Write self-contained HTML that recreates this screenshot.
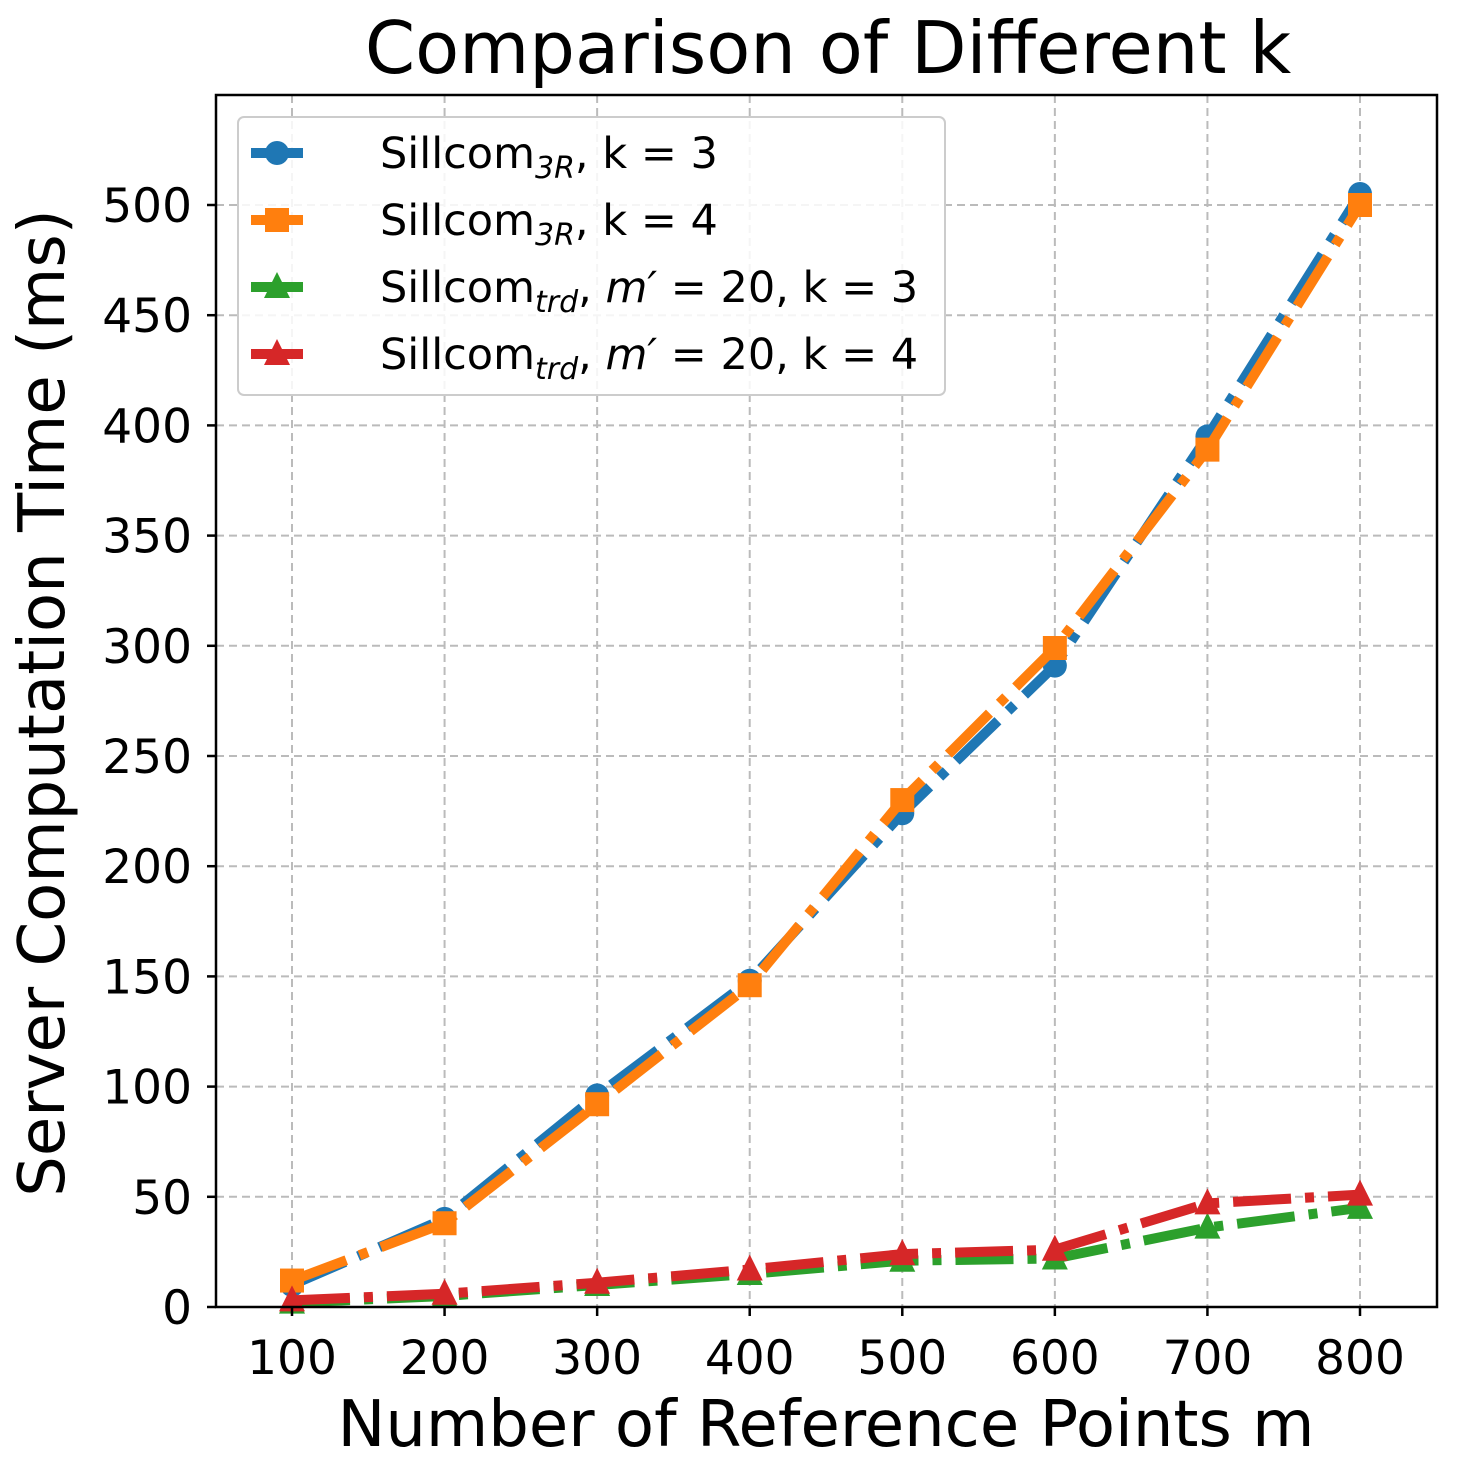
<!DOCTYPE html>
<html><head><meta charset="utf-8"><style>
body{margin:0;background:#fff}
svg text{font-family:"DejaVu Sans","Liberation Sans",sans-serif;fill:#000}
</style></head><body>
<svg id="chart" width="1460" height="1467" viewBox="0 0 1460 1467" xmlns="http://www.w3.org/2000/svg">
<rect width="1460" height="1467" fill="#fff"/>
<text x="828" y="73" font-size="72" text-anchor="middle">Comparison of Different k</text>
<g id="grid"></g>
<g id="series"></g>
<rect x="216" y="95" width="1221" height="1212" fill="none" stroke="#000" stroke-width="2.5"/>
<g id="ticks"></g>
<text x="826" y="1446" font-size="64" text-anchor="middle">Number of Reference Points m</text>
<text transform="translate(64,703) rotate(-90)" font-size="64" text-anchor="middle">Server Computation Time (ms)</text>
<g id="legend">
<rect x="238" y="117" width="707" height="278" rx="6" fill="#fff" fill-opacity="0.85" stroke="#ccc" stroke-width="2"/>
</g>
</svg>
<script>
const categories=[100,200,300,400,500,600,700,800];
const sillcom3R_k3=[10,40,96,148,224,291,395,505];
const sillcom3R_k4=[12,38,92,146,230,299,389,500];
const sillcomTrd_k3=[2,5,10,15,21,22,36,45];
const sillcomTrd_k4=[3,6,11,17,24,26,47,51];
const yTicks=[0,50,100,150,200,250,300,350,400,450,500];
const xTicks=[100,200,300,400,500,600,700,800];
const NS='http://www.w3.org/2000/svg';
function X(v){return 292+(v-100)*(1360-292)/700;}
function Y(v){return 1307-v*(1307-205)/500;}
function mk(tag,attrs,parent){const e=document.createElementNS(NS,tag);for(const k in attrs)e.setAttribute(k,attrs[k]);parent.appendChild(e);return e;}
const grid=document.getElementById('grid'),ticks=document.getElementById('ticks'),ser=document.getElementById('series'),leg=document.getElementById('legend');
yTicks.forEach(t=>{const y=Y(t);
 const g=mk('line',{x1:216,x2:1437,y1:y,y2:y,stroke:'#bbb','stroke-width':2,'stroke-dasharray':'8,5'},grid);
 
 
 const tk=mk('line',{x1:207,x2:216,y1:y,y2:y,stroke:'#000','stroke-width':2.5},ticks);
 
 
 const tx=mk('text',{x:192,y:y+17,'font-size':47,'text-anchor':'end'},ticks);tx.textContent=t;
 
 
});
xTicks.forEach(t=>{const x=X(t);
 const g=mk('line',{x1:x,x2:x,y1:95,y2:1307,stroke:'#bbb','stroke-width':2,'stroke-dasharray':'8,5'},grid);
 
 
 const tk=mk('line',{x1:x,x2:x,y1:1307,y2:1316,stroke:'#000','stroke-width':2.5},ticks);
 
 
 const tx=mk('text',{x:x,y:1374,'font-size':47,'text-anchor':'middle'},ticks);tx.textContent=t;
 
 
});
function marker(type,x,y,color,parent){
 if(type==='o')return mk('circle',{cx:x,cy:y,r:12,fill:color},parent);
 if(type==='s')return mk('rect',{x:x-12,y:y-12,width:24,height:24,fill:color},parent);
 return mk('polygon',{points:`${x},${y-15} ${x+13},${y+11} ${x-13},${y+11}`,fill:color},parent);
}
const series=[
 {name:'sillcom-3r-k3',vals:sillcom3R_k3,color:'#1f77b4',m:'o'},
 {name:'sillcom-3r-k4',vals:sillcom3R_k4,color:'#ff7f0e',m:'s'},
 {name:'sillcom-trd-k3',vals:sillcomTrd_k3,color:'#2ca02c',m:'^'},
 {name:'sillcom-trd-k4',vals:sillcomTrd_k4,color:'#d62728',m:'^'}];
series.forEach(s=>{
 const g=mk('g',{},ser);
 
 
 const pts=s.vals.map((v,i)=>X(categories[i])+','+Y(v)).join(' ');
 const l=mk('polyline',{points:pts,fill:'none',stroke:s.color,'stroke-width':10,'stroke-dasharray':'58,14,9,14'},g);
 
 
 s.vals.forEach((v,i)=>{const m=marker(s.m,X(categories[i]),Y(v),s.color,g);
  
  });
});
const labels=[
 ['Sillcom','3R',', k = 3'],
 ['Sillcom','3R',', k = 4'],
 ['Sillcom','trd',', m′ = 20, k = 3'],
 ['Sillcom','trd',', m′ = 20, k = 4']];
series.forEach((s,i)=>{const y=153+i*67;
 const g=mk('g',{},leg);
 
 
 mk('line',{x1:251,x2:303,y1:y,y2:y,stroke:s.color,'stroke-width':10},g);
 marker(s.m,277,y,s.color,g);
 const t=mk('text',{x:380,y:y+15,'font-size':43},g);
 const a=mk('tspan',{},t);a.textContent=labels[i][0];
 const b=mk('tspan',{'font-size':30,'font-style':'italic',dy:10},t);b.textContent=labels[i][1];
 const c=mk('tspan',{dy:-10},t);
 if(i<2){c.textContent=labels[i][2];}
 else{c.textContent=', ';const d=mk('tspan',{'font-style':'italic'},t);d.textContent='m′';const e=mk('tspan',{},t);e.textContent=' = 20, k = '+(i===2?3:4);}
});
</script>
</body></html>
